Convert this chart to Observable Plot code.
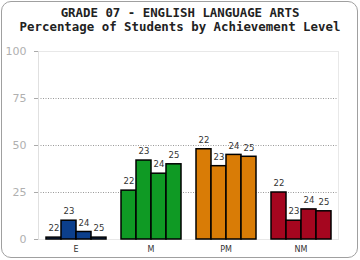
<!DOCTYPE html>
<html><head><meta charset="utf-8">
<script src="https://cdn.jsdelivr.net/npm/d3@7"></script>
<script src="https://cdn.jsdelivr.net/npm/@observablehq/plot@0.6"></script>
<style>
body{margin:0;background:#fff}
#wrap{position:relative;width:360px;height:260px;overflow:hidden}
#border{position:absolute;left:1px;top:1px;width:357px;height:257px;border:1.5px solid #a0a0a0;border-radius:10px;box-sizing:border-box;pointer-events:none}
.title{position:absolute;left:0;width:360px;text-align:center;font:bold 12.4px/12px "DejaVu Sans Mono",monospace;color:#222;white-space:nowrap}
#t1{top:7px}
#t2{top:21px}
#chart{position:absolute;left:0;top:0}
</style></head>
<body>
<div id="wrap">
<div id="chart"></div>
<div class="title" id="t1">GRADE 07 - ENGLISH LANGUAGE ARTS</div>
<div class="title" id="t2">Percentage of Students by Achievement Level</div>
<div id="border"></div>
</div>
<script>
const levels = ["E", "M", "PM", "NM"];
const years = ["22", "23", "24", "25"];
const valuesE = [1, 10, 4, 1];
const valuesM = [26, 42, 35, 40];
const valuesPM = [48, 39, 45, 44];
const valuesNM = [25, 10, 16, 15];
const colors = ["#0c3f8c", "#0f9a24", "#d97c06", "#a5061f"];
const yTicks = [0, 25, 50, 75, 100];
const gridTicks = [25, 50, 75];

const series = [valuesE, valuesM, valuesPM, valuesNM];
const rows = [];
levels.forEach((lv, i) => years.forEach((yr, j) => rows.push({level: lv, year: yr, value: series[i][j]})));

const chart = Plot.plot({
  width: 360, height: 260,
  marginTop: 51, marginLeft: 37, marginRight: 22, marginBottom: 21,
  fx: {domain: levels, padding: 0, label: null, axis: null},
  x: {domain: years, paddingInner: 0, paddingOuter: 0.5, axis: null},
  y: {domain: [0, 100], axis: null},
  color: {domain: levels, range: colors},
  style: {fontFamily: "DejaVu Sans, sans-serif", fontSize: "8px", color: "#333", background: "transparent"},
  marks: [
    Plot.ruleY(gridTicks, {stroke: "#999", strokeDasharray: "1,1.5", strokeWidth: 1}),
    Plot.ruleY([100], {stroke: "#e8e8e8"}),
    Plot.ruleY([0], {stroke: "#e8e8e8"}),
    Plot.frame({anchor: "left", facetAnchor: "left", stroke: "#e0e0e0"}),
    Plot.frame({anchor: "right", facetAnchor: "right", stroke: "#e8e8e8"}),
    Plot.axisY(yTicks, {tickSize: 4, tickPadding: 8, fontSize: 11, fill: "#b0b0b0", stroke: "#aaa", label: null}),
    Plot.axisFx({anchor: "bottom", tickSize: 0, tickPadding: 7, fontSize: 8, fill: "#333", label: null}),
    Plot.barY(rows, {fx: "level", x: "year", y: "value", fill: "level", stroke: "#000", strokeWidth: 1.5}),
    Plot.text(rows, {fx: "level", x: "year", y: "value", text: "year", dy: -9, fill: "#333", fontSize: 8.5})
  ]
});
document.getElementById("chart").appendChild(chart);
</script>
</body></html>
